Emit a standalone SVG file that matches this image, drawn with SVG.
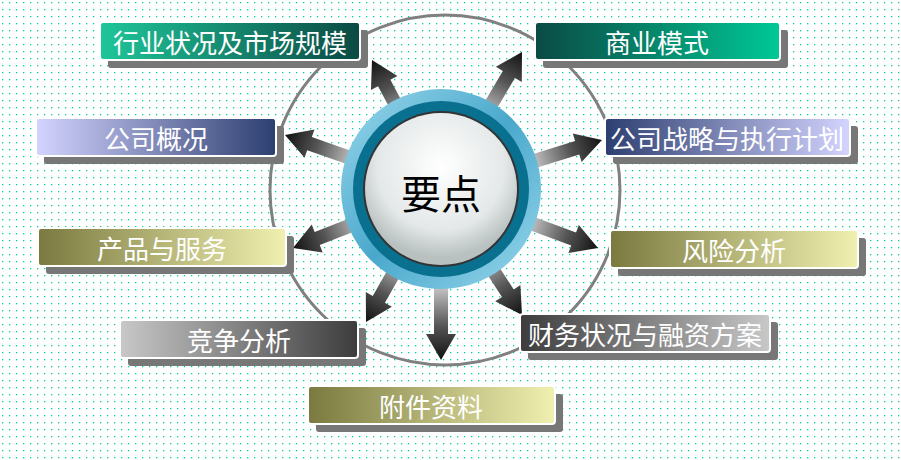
<svg xmlns="http://www.w3.org/2000/svg" width="901" height="460" viewBox="0 0 901 460">
<defs>
<pattern id="dots" width="7" height="7" patternUnits="userSpaceOnUse"><rect x="2" y="2" width="1.3" height="1.3" fill="#00d0a0"/></pattern>
<linearGradient id="ag" x1="0" y1="0" x2="1" y2="0"><stop offset="0" stop-color="#e8e8e8"/><stop offset="0.6" stop-color="#555"/><stop offset="1" stop-color="#111"/></linearGradient>
<linearGradient id="gTeal" x1="0" x2="1"><stop offset="0" stop-color="#1fc69a"/><stop offset="1" stop-color="#0b4a44"/></linearGradient>
<linearGradient id="gTealR" x1="0" x2="1"><stop offset="0" stop-color="#0b4a44"/><stop offset="1" stop-color="#00c896"/></linearGradient>
<linearGradient id="gNavy" x1="0" x2="1"><stop offset="0" stop-color="#d4d4ff"/><stop offset="1" stop-color="#2c3e70"/></linearGradient>
<linearGradient id="gNavyR" x1="0" x2="1"><stop offset="0" stop-color="#2c3e70"/><stop offset="1" stop-color="#d4d4ff"/></linearGradient>
<linearGradient id="gOlive" x1="0" x2="1"><stop offset="0" stop-color="#7a7a40"/><stop offset="1" stop-color="#f0f0b0"/></linearGradient>
<linearGradient id="gGray" x1="0" x2="1"><stop offset="0" stop-color="#c8c8c8"/><stop offset="1" stop-color="#3c3c3c"/></linearGradient>
<linearGradient id="gGrayR" x1="0" x2="1"><stop offset="0" stop-color="#3c3c3c"/><stop offset="1" stop-color="#c8c8c8"/></linearGradient>
<linearGradient id="ring" x1="0" y1="0" x2="1" y2="1"><stop offset="0" stop-color="#9ad8ec"/><stop offset="0.5" stop-color="#4aa8cc"/><stop offset="1" stop-color="#9ad8ec"/></linearGradient>
<radialGradient id="face" cx="0.5" cy="0.35" r="0.6"><stop offset="0" stop-color="#ffffff"/><stop offset="0.7" stop-color="#e4e8e8"/><stop offset="1" stop-color="#b8c0c0"/></radialGradient>
<path id="arrow" d="M-85,-7 L-26,-7 L-26,-15 L0,0 L-26,15 L-26,7 L-85,7 Z" fill="url(#ag)"/>
</defs>
<style>
.box{stroke:#fff;stroke-width:2}
.sh{fill:#777}
.t{font-family:"Noto Sans CJK SC",sans-serif;font-size:26px;fill:#fff;text-anchor:middle;dominant-baseline:central}
</style>
<rect width="901" height="460" fill="#fff"/>
<rect width="901" height="460" fill="url(#dots)"/>
<circle cx="445" cy="190" r="175" fill="none" stroke="#808080" stroke-width="3"/>
<g id="connectors">
<use href="#arrow" transform="translate(372,60) rotate(-118)"/>
<use href="#arrow" transform="translate(522,52) rotate(-59.6)"/>
<use href="#arrow" transform="translate(285,135) rotate(-160.6)"/>
<use href="#arrow" transform="translate(602,140) rotate(-17.3)"/>
<use href="#arrow" transform="translate(293,248) rotate(158.6)"/>
<use href="#arrow" transform="translate(598,248) rotate(20.3)"/>
<use href="#arrow" transform="translate(366,322) rotate(119.6)"/>
<use href="#arrow" transform="translate(522,315) rotate(57)"/>
<use href="#arrow" transform="translate(441,360) rotate(90)"/>
</g>
<g id="center">
<circle cx="441" cy="189" r="100" fill="url(#ring)"/>
<circle cx="441" cy="189" r="88" fill="#0a7090"/>
<circle cx="441" cy="189" r="78" fill="#333"/>
<circle cx="441" cy="189" r="76" fill="url(#face)"/>
<text x="441" y="192" style="font-family:'Noto Sans CJK SC',sans-serif;font-size:40px;fill:#000;text-anchor:middle;dominant-baseline:central">要点</text>
</g>
<g id="n1"><rect class="sh" x="108" y="30" width="260" height="38" rx="3"/><rect class="box" x="100" y="22" width="260" height="38" rx="3" fill="url(#gTeal)"/><text class="t" x="230" y="41">行业状况及市场规模</text></g>
<g id="n2"><rect class="sh" x="543" y="30" width="245" height="38" rx="3"/><rect class="box" x="535" y="22" width="245" height="38" rx="3" fill="url(#gTealR)"/><text class="t" x="657" y="41">商业模式</text></g>
<g id="n3"><rect class="sh" x="44" y="126" width="240" height="38" rx="3"/><rect class="box" x="36" y="118" width="240" height="38" rx="3" fill="url(#gNavy)"/><text class="t" x="156" y="137">公司概况</text></g>
<g id="n4"><rect class="sh" x="613" y="126" width="245" height="38" rx="3"/><rect class="box" x="605" y="118" width="245" height="38" rx="3" fill="url(#gNavyR)"/><text class="t" x="727" y="137">公司战略与执行计划</text></g>
<g id="n5"><rect class="sh" x="46" y="236" width="248" height="38" rx="3"/><rect class="box" x="38" y="228" width="248" height="38" rx="3" fill="url(#gOlive)"/><text class="t" x="162" y="247">产品与服务</text></g>
<g id="n6"><rect class="sh" x="618" y="238" width="248" height="38" rx="3"/><rect class="box" x="610" y="230" width="248" height="38" rx="3" fill="url(#gOlive)"/><text class="t" x="734" y="249">风险分析</text></g>
<g id="n7"><rect class="sh" x="128" y="328" width="238" height="38" rx="3"/><rect class="box" x="120" y="320" width="238" height="38" rx="3" fill="url(#gGray)"/><text class="t" x="239" y="339">竞争分析</text></g>
<g id="n8"><rect class="sh" x="528" y="322" width="250" height="38" rx="3"/><rect class="box" x="520" y="314" width="250" height="38" rx="3" fill="url(#gGrayR)"/><text class="t" x="645" y="333">财务状况与融资方案</text></g>
<g id="n9"><rect class="sh" x="316" y="394" width="247" height="38" rx="3"/><rect class="box" x="308" y="386" width="247" height="38" rx="3" fill="url(#gOlive)"/><text class="t" x="431" y="405">附件资料</text></g>
</svg>
